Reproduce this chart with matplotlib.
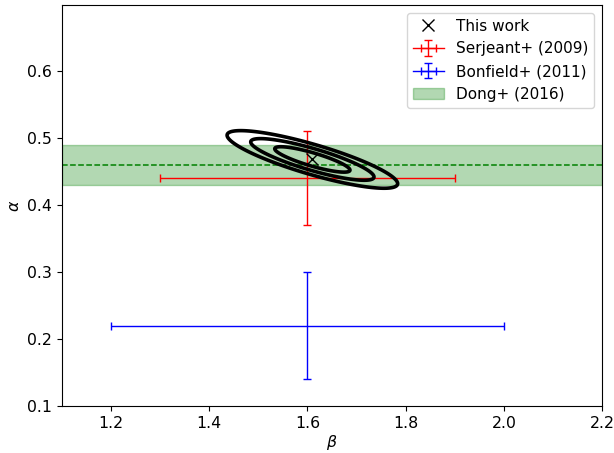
import numpy as np
import matplotlib
matplotlib.use("Agg")
import matplotlib.pyplot as plt

plt.rcParams['font.size'] = 11.3

# This work: Gaussian posterior on (beta, alpha)
this_beta, this_alpha = 1.61, 0.468
sig_beta, sig_alpha, rho = 0.0505, 0.0125, -0.84
dchi2_levels = [2.30, 6.18, 11.83]

# Literature values
serj_beta, serj_alpha = 1.6, 0.44
serj_beta_err, serj_alpha_err = 0.3, 0.07
bonf_beta, bonf_alpha = 1.6, 0.22
bonf_beta_err, bonf_alpha_err = 0.4, 0.08
dong_alpha, dong_lo, dong_hi = 0.46, 0.43, 0.49

W, H = 614, 453
fig = plt.figure(figsize=(W/100, H/100), dpi=100)
ax = fig.add_axes([62/W, (H-406)/H, (602-62)/W, (406-5)/H])

# contours
b = np.linspace(1.3, 1.95, 600)
a = np.linspace(0.38, 0.56, 600)
B, A = np.meshgrid(b, a)
zb = (B - this_beta) / sig_beta
za = (A - this_alpha) / sig_alpha
chi2 = (zb**2 - 2*rho*zb*za + za**2) / (1 - rho**2)
ax.contour(B, A, chi2, levels=dchi2_levels, colors='k', linewidths=2.6, zorder=4)

h1, = ax.plot(this_beta, this_alpha, 'kx', ms=8, mew=1.0, ls='none', label='This work', zorder=5)
h2 = ax.errorbar(serj_beta, serj_alpha, xerr=serj_beta_err, yerr=serj_alpha_err,
                 color='red', capsize=3, lw=1, label='Serjeant+ (2009)')
h3 = ax.errorbar(bonf_beta, bonf_alpha, xerr=bonf_beta_err, yerr=bonf_alpha_err,
                 color='blue', capsize=3, lw=1, label='Bonfield+ (2011)')
ax.axhline(dong_alpha, color='green', ls='--', lw=1.1)
h4 = ax.axhspan(dong_lo, dong_hi, color='green', alpha=0.3, label='Dong+ (2016)')

ax.set_xlim(1.1, 2.2)
ax.set_ylim(0.1, 0.6985)
ax.set_xlabel(r'$\beta$', labelpad=2)
ax.set_ylabel(r'$\alpha$')
ax.legend(handles=[h1, h2, h3, h4], loc='upper right', fontsize=11)

fig.savefig('out.png', dpi=100)
